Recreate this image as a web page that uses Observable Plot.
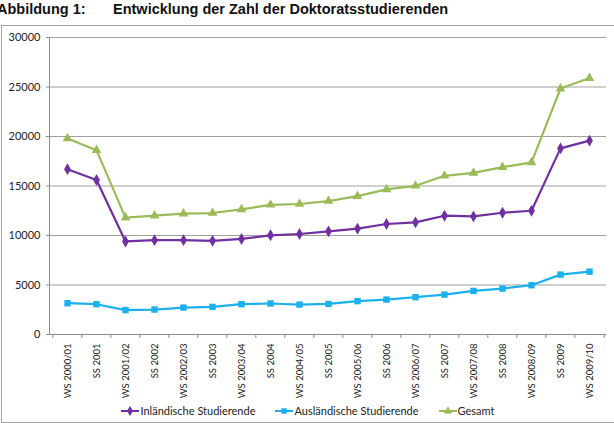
<!DOCTYPE html>
<html>
<head>
<meta charset="utf-8">
<script src="https://cdn.jsdelivr.net/npm/d3@7"></script>
<script src="https://cdn.jsdelivr.net/npm/@observablehq/plot@0.6"></script>
<style>
  body { margin: 0; background: #fff; width: 614px; height: 423px; overflow: hidden; position: relative; font-family: Lato, "Liberation Sans", sans-serif; }
  .t1, .t2 { position: absolute; top: 1px; font-family: "Liberation Sans", Arial, sans-serif; font-weight: bold; font-size: 14.5px; color: #111; white-space: nowrap; }
  .t1 { left: -3px; }
  .t2 { left: 113px; }
  #box { position: absolute; left: 1px; top: 25px; width: 612px; height: 396px; border: 1px solid #a6a6a6; border-right: none; }
  #chart { position: absolute; left: 0; top: 0; }
  #chart svg { overflow: visible; }
  #legend { position: absolute; left: 0; top: 378px; width: 612px; display: flex; justify-content: center; gap: 20px; font-size: 11px; color: #222; }
  #legend .item { display: flex; align-items: center; }
  #legend svg { margin-right: 1px; }
</style>
</head>
<body>
<div class="t1">Abbildung 1:</div>
<div class="t2">Entwicklung der Zahl der Doktoratsstudierenden</div>
<div id="box"><div id="chart"></div><div id="legend"></div></div>
<script>
const categories = ["WS 2000/01","SS 2001","WS 2001/02","SS 2002","WS 2002/03","SS 2003","WS 2003/04","SS 2004","WS 2004/05","SS 2005","WS 2005/06","SS 2006","WS 2006/07","SS 2007","WS 2007/08","SS 2008","WS 2008/09","SS 2009","WS 2009/10"];
const inland   = [16700,15600,9400,9530,9530,9460,9650,10020,10150,10420,10690,11160,11330,12000,11930,12300,12500,18800,19580];
const ausland  = [3160,3060,2460,2520,2720,2790,3060,3130,3020,3090,3370,3530,3770,4030,4400,4640,4980,6050,6350];
const gesamt   = [19800,18620,11800,12000,12200,12270,12640,13100,13180,13480,13980,14660,15020,16030,16330,16900,17380,24840,25900];
const seriesNames = ["Inländische Studierende","Ausländische Studierende","Gesamt"];
const seriesColors = ["#7030A0","#1CB0EC","#9BBB59"];
const seriesSymbols = ["diamond","square","triangle"];
const yTicks = [0,5000,10000,15000,20000,25000,30000];

const seriesValues = [inland, ausland, gesamt];
const data = [];
seriesNames.forEach((s, k) => categories.forEach((c, i) => data.push({series: s, cat: c, value: seriesValues[k][i]})));

const W = 612, H = 376, ML = 47, MR = 8, MT = 11, MB = 68;
const half = (W - ML - MR) / categories.length / 2;

const chart = Plot.plot({
  width: W, height: H,
  marginLeft: ML, marginRight: MR, marginTop: MT, marginBottom: MB,
  style: {fontFamily: "Lato, 'Liberation Sans', sans-serif", fontSize: "11px", color: "#222", background: "transparent", overflow: "visible"},
  x: {type: "point", domain: categories, padding: 0.5, label: null},
  y: {domain: [0, 30000], label: null},
  color: {domain: seriesNames, range: seriesColors},
  symbol: {domain: seriesNames, range: seriesSymbols},
  marks: [
    Plot.gridY(yTicks.filter(v => v > 0), {stroke: "#a0a0a0", strokeOpacity: 1}),
    Plot.ruleY([0], {stroke: "#8c8c8c"}),
    Plot.frame({anchor: "left", stroke: "#8c8c8c"}),
    Plot.axisY({ticks: yTicks, tickSize: 3, tickPadding: 6, stroke: "#8c8c8c", fill: "#222", tickFormat: d => String(d)}),
    Plot.axisX({ticks: categories, tickSize: 0, tickRotate: -90, tickPadding: 9, fontSize: 9.5, fill: "#222"}),
    Plot.axisX({ticks: categories, tickSize: 4, tickFormat: () => "", dx: -half, stroke: "#8c8c8c"}),
    Plot.axisX({ticks: [categories[categories.length - 1]], tickSize: 4, tickFormat: () => "", dx: half, stroke: "#8c8c8c"}),
    Plot.line(data, {x: "cat", y: "value", z: "series", stroke: "series", strokeWidth: 2.2}),
    Plot.dot(data, {x: "cat", y: "value", symbol: "series", fill: "series", stroke: null, r: 3.6})
  ]
});
document.getElementById("chart").appendChild(chart);

const legend = d3.select("#legend");
seriesNames.forEach((s, k) => {
  const item = legend.append("div").attr("class", "item");
  const svg = item.append("svg").attr("width", 18).attr("height", 10);
  svg.append("line").attr("x1", 0).attr("x2", 18).attr("y1", 5).attr("y2", 5)
    .attr("stroke", seriesColors[k]).attr("stroke-width", 2);
  const sym = {diamond: d3.symbolDiamond, square: d3.symbolSquare, triangle: d3.symbolTriangle}[seriesSymbols[k]];
  svg.append("path").attr("transform", "translate(9,5)").attr("d", d3.symbol(sym, 30)())
    .attr("fill", seriesColors[k]);
  item.append("span").text(s);
});
</script>
</body>
</html>
